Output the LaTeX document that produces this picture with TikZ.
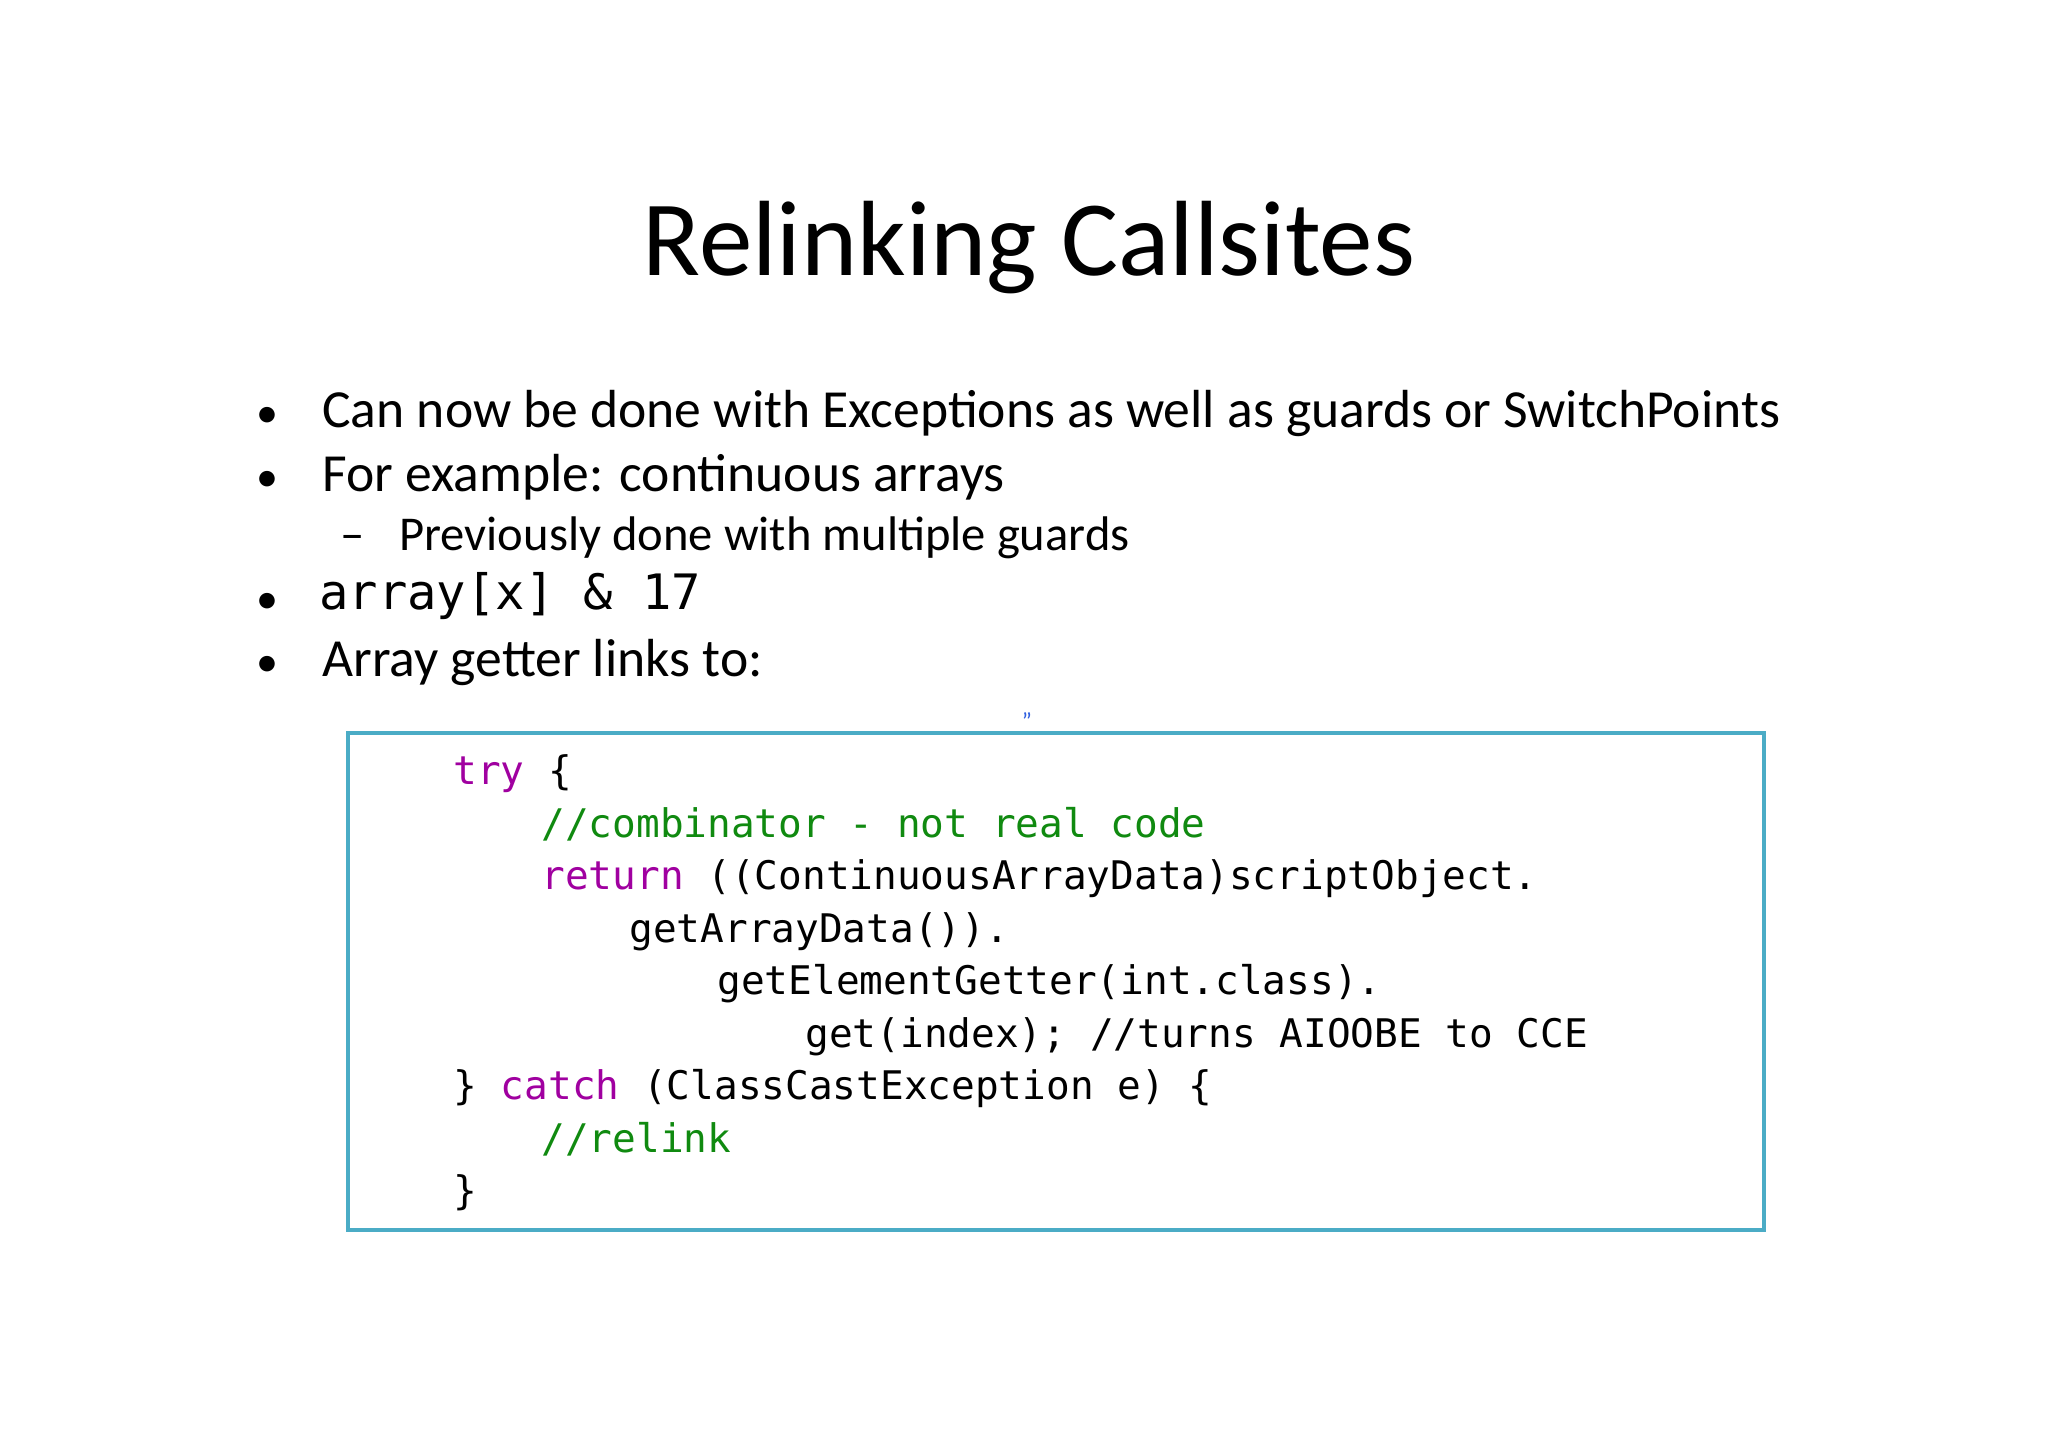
\documentclass[tikz,border=0pt]{standalone}
\usepackage{fontspec}
\setmainfont{Carlito}
\setmonofont{DejaVu Sans Mono}
\definecolor{boxc}{HTML}{4BACC6}
\definecolor{kw}{HTML}{A000A0}
\definecolor{cm}{HTML}{108A10}
\definecolor{qt}{HTML}{3060E0}
\newcommand{\ind}[1]{\hspace*{#1\dimexpr44pt\relax}}
\begin{document}
\begin{tikzpicture}[x=0.5pt,y=-0.5pt,
  body/.style={anchor=mid west,inner sep=0,font=\fontsize{26.8}{32}\selectfont},
  sub/.style={anchor=mid west,inner sep=0,font=\fontsize{24.3}{29}\selectfont},
  code/.style={anchor=mid west,inner sep=0,font=\ttfamily\fontsize{19.7}{24}\selectfont}]
\useasboundingbox[fill=white] (0,0) rectangle (2048,1447);
\node[font=\fontsize{53.5}{62}\selectfont,inner sep=0] (title) at (1029,248) {Relinking Callsites};
\foreach \y/\n in {423/a,487/b,609/d,672/e}{\node[body,font=\fontsize{22}{26}\selectfont] (dot\n) at (256,\y) {•};}
\node[body] (t1) at (322,423) {Can now be done with Exceptions as well as guards or SwitchPoints};
\node[body] (t2) at (322,487) {For example: continuous arrays};
\node[sub] (dash) at (340,546) {–};
\node[sub] (t3) at (399,546) {Previously done with multiple guards};
\node[anchor=mid west,inner sep=0,font=\ttfamily\fontsize{24.4}{28}\selectfont] (t4) at (319,605) {array[x] \& 17};
\node[body] (t5) at (322,672) {Array getter links to:};
\node[inner sep=0,font=\fontsize{12}{12}\selectfont,text=qt] (q) at (1027,721) {"};
\draw[boxc,line width=2pt] (348,733) rectangle (1764,1230);
\foreach \i/\t in {
 0/{\textcolor{kw}{try} \{},
 1/{\ind{1}\textcolor{cm}{//combinator - not real code}},
 2/{\ind{1}\textcolor{kw}{return} ((ContinuousArrayData)scriptObject.},
 3/{\ind{2}getArrayData()).},
 4/{\ind{3}getElementGetter(int.class).},
 5/{\ind{4}get(index); //turns AIOOBE to CCE},
 6/{\} \textcolor{kw}{catch} (ClassCastException e) \{},
 7/{\ind{1}\textcolor{cm}{//relink}},
 8/{\}}}
 {\node[code] (c\i) at (453,780+52.5*\i) {\t};}
\end{tikzpicture}
\end{document}
